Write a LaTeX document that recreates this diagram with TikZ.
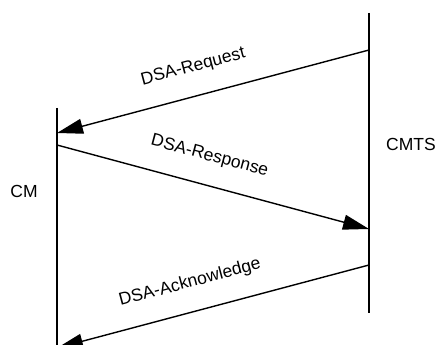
\documentclass[tikz,border=0pt]{standalone}
\usepackage{fontspec}
\setmainfont{Liberation Sans}
\usetikzlibrary{arrows.meta}

\begin{document}
\begin{tikzpicture}[x=1pt, y=1pt, >={Triangle[length=26pt, width=15pt]},
      lifeline/.style={line width=1.4pt},
      msg/.style={->, line width=1.4pt},
      msg label/.style={sloped, above=20pt, inner sep=0pt,
                        font=\fontsize{17.5}{20}\selectfont},
      party/.style={inner sep=0pt, font=\fontsize{17.5}{20}\selectfont}]

    \useasboundingbox (0,0) rectangle (436,345);

    % lifelines
    \coordinate (cmtsTop) at (369,332);
    \coordinate (cmtsBot) at (369,32);
    \coordinate (cmTop) at (57,237);
    \coordinate (cmBot) at (57,-5);
    \draw[lifeline] (cmtsTop) -- (cmtsBot);
    \draw[lifeline] (cmTop) -- (cmBot);

    \node[party] (CMTS) at (411,201) {CMTS};
    \node[party] (CM) at (24,154) {CM};

    % message end points
    \coordinate (reqS) at (369,295);
    \coordinate (reqE) at (57,212);
    \coordinate (rspS) at (57,200);
    \coordinate (rspE) at (369,116);
    \coordinate (ackS) at (369,80);
    \coordinate (ackE) at (57,-3);

    \draw[msg] (reqS) -- node[msg label, pos=0.54] {DSA-Request} (reqE);
    \draw[msg] (rspS) -- node[msg label, pos=0.465] {DSA-Response} (rspE);
    \draw[msg] (ackS) -- node[msg label, pos=0.55] {DSA-Acknowledge} (ackE);
  \end{tikzpicture}
\end{document}
